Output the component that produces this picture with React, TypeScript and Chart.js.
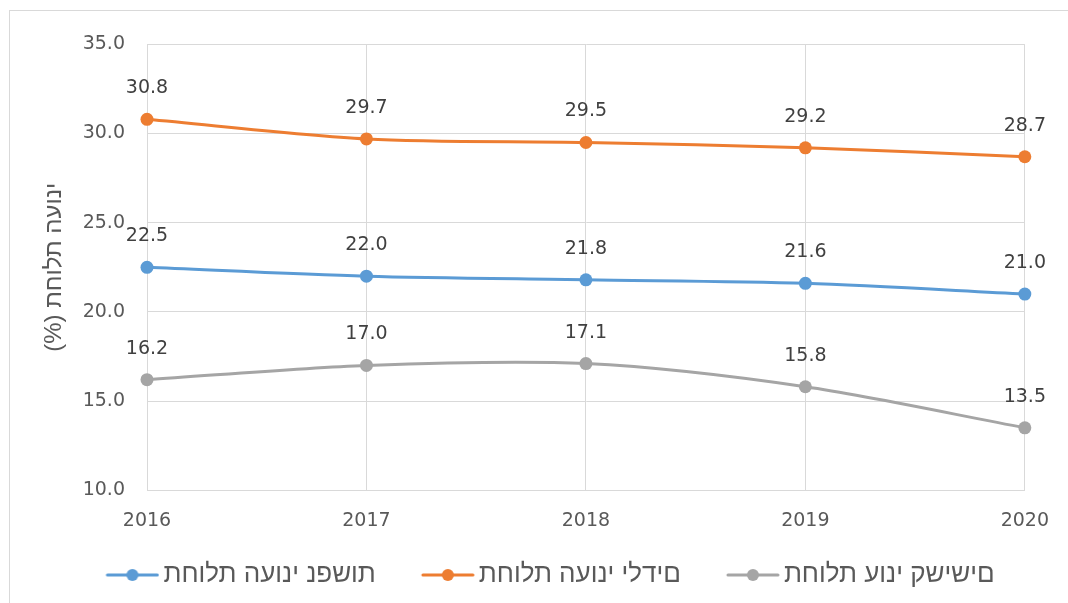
import React, { useEffect, useRef } from "react";
import { Chart, registerables } from "chart.js";

Chart.register(...registerables);

const years = ["2016", "2017", "2018", "2019", "2020"];
const personsValues = [22.5, 22.0, 21.8, 21.6, 21.0];
const childrenValues = [30.8, 29.7, 29.5, 29.2, 28.7];
const elderlyValues = [16.2, 17.0, 17.1, 15.8, 13.5];
const seriesLabels = ["תחולת העוני נפשות", "תחולת העוני ילדים", "תחולת עוני קשישים"];
const seriesColors = ["#5B9BD5", "#ED7D31", "#A5A5A5"];
const yTitle = "תחולת העוני (%)";
const yMin = 10;
const yMax = 35;
const yStep = 5;

const NUM_FONT = "'DejaVu Sans', sans-serif";
const HEB_FONT = "'Liberation Sans', 'DejaVu Sans', sans-serif";
const NUM_FS = 19;
const LEG_FS = 26;
const TITLE_FS = 24;

// Hebrew strings are handed to the canvas in visual order so that they
// appear the same way as in the reference picture.
const mirrorChars: Record<string, string> = { "(": ")", ")": "(" };
function visualOrder(s: string): string {
  return Array.from(s)
    .reverse()
    .map((c) => mirrorChars[c] ?? c)
    .join("");
}

// legend geometry
const LEG_PAD = 11;
const HALF = LEG_FS / 2;
const BOX_W = 103 - LEG_PAD - HALF;
const IMG_W = BOX_W + 2 * HALF - 8;

function makeMarker(color: string): HTMLCanvasElement {
  const c = document.createElement("canvas");
  c.width = Math.round(IMG_W);
  c.height = 14;
  const g = c.getContext("2d")!;
  const x0 = c.width - 54;
  g.strokeStyle = color;
  g.lineWidth = 3;
  g.lineCap = "round";
  g.beginPath();
  g.moveTo(x0 + 2, 7);
  g.lineTo(x0 + 52, 7);
  g.stroke();
  g.fillStyle = color;
  g.beginPath();
  g.arc(x0 + 27, 7, 6, 0, Math.PI * 2);
  g.fill();
  return c;
}

const dataLabelPlugin = {
  id: "dataLabelsInline",
  afterDatasetsDraw(chart: any) {
    const ctx = chart.ctx;
    ctx.save();
    ctx.font = `${NUM_FS}px ${NUM_FONT}`;
    ctx.fillStyle = "#404040";
    ctx.textAlign = "center";
    ctx.textBaseline = "middle";
    chart.data.datasets.forEach((ds: any, i: number) => {
      const meta = chart.getDatasetMeta(i);
      meta.data.forEach((pt: any, j: number) => {
        ctx.fillText(Number(ds.data[j]).toFixed(1), pt.x, pt.y - 31);
      });
    });
    ctx.restore();
  },
};

export default function App() {
  const ref = useRef<HTMLCanvasElement | null>(null);

  useEffect(() => {
    if (!ref.current) return;
    const markers = seriesColors.map((c) => makeMarker(c));
    const seriesData = [personsValues, childrenValues, elderlyValues];
    const L = 28;
    const chart = new Chart(ref.current, {
      type: "line",
      data: {
        labels: years,
        datasets: seriesData.map((d, i) => ({
          label: seriesLabels[i],
          data: d,
          borderColor: seriesColors[i],
          backgroundColor: seriesColors[i],
          borderWidth: 3,
          pointRadius: 6.5,
          pointHoverRadius: 6.5,
          pointBackgroundColor: seriesColors[i],
          pointBorderWidth: 0,
          tension: 0.3,
          fill: false,
          clip: false as any,
        })),
      },
      options: {
        animation: false,
        responsive: true,
        maintainAspectRatio: false,
        layout: { padding: { left: L, right: 40, top: 29, bottom: 5 } },
        plugins: {
          tooltip: { enabled: false },
          legend: {
            position: "bottom",
            labels: {
              usePointStyle: true,
              pointStyleWidth: BOX_W,
              padding: LEG_PAD,
              color: "#595959",
              font: { family: HEB_FONT, size: LEG_FS },
              generateLabels: (ch: any) =>
                ch.data.datasets.map((ds: any, i: number) => ({
                  text: visualOrder(ds.label),
                  fillStyle: seriesColors[i],
                  strokeStyle: seriesColors[i],
                  lineWidth: 0,
                  pointStyle: markers[i],
                  hidden: false,
                  datasetIndex: i,
                  fontColor: "#595959",
                })),
            },
          },
        },
        scales: {
          x: {
            type: "category",
            offset: false,
            grid: { color: "#D9D9D9", lineWidth: 1, drawTicks: false },
            border: { color: "#D9D9D9", width: 1 },
            ticks: {
              padding: 19,
              color: "#595959",
              font: { family: NUM_FONT, size: NUM_FS },
              maxRotation: 0,
            },
          },
          y: {
            min: yMin,
            max: yMax,
            grid: { color: "#D9D9D9", lineWidth: 1, drawTicks: false },
            border: { color: "#D9D9D9", width: 1 },
            ticks: {
              stepSize: yStep,
              padding: 22,
              color: "#595959",
              font: { family: NUM_FONT, size: NUM_FS },
              callback: (v: any) => Number(v).toFixed(1),
            },
            title: {
              display: true,
              text: visualOrder(yTitle),
              color: "#595959",
              font: { family: HEB_FONT, size: TITLE_FS },
              padding: { top: 44 - L - (TITLE_FS * 1.2) / 2, bottom: 0 },
            },
            afterFit: (s: any) => {
              s.width = 137 - L;
            },
          },
        },
      },
      plugins: [dataLabelPlugin],
    } as any);
    return () => chart.destroy();
  }, []);

  return (
    <div
      style={{
        position: "fixed",
        left: 9,
        top: 10,
        width: 1059,
        height: 593,
        borderTop: "1px solid #D9D9D9",
        borderLeft: "1px solid #D9D9D9",
        background: "#fff",
        overflow: "hidden",
      }}
    >
      <div style={{ position: "relative", width: 1058, height: 592 }}>
        <canvas ref={ref} />
      </div>
    </div>
  );
}
